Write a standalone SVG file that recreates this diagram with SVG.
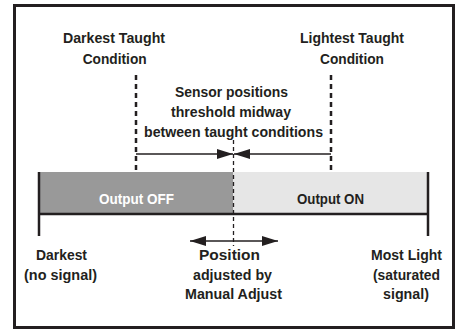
<svg xmlns="http://www.w3.org/2000/svg" width="457" height="330" viewBox="0 0 457 330">
<defs>
<style>
text{font-family:"Liberation Sans",Arial,sans-serif;font-weight:bold;font-size:15.5px;fill:#231f20;text-anchor:middle}
.w{fill:#ffffff}
.ln{stroke:#231f20;fill:none}
</style>
<marker id="ah" viewBox="0 0 16 10" refX="16" refY="5" markerWidth="16" markerHeight="10" markerUnits="userSpaceOnUse" orient="auto">
<path d="M0,0 L16,5 L0,10 Z" fill="#231f20"/>
</marker>
</defs>
<rect x="0" y="0" width="457" height="330" fill="#ffffff"/>
<rect id="frame" x="14.5" y="5.5" width="439" height="322" fill="none" stroke="#231f20" stroke-width="3"/>
<g id="bar">
<rect x="39" y="172" width="194" height="42" fill="#999999"/>
<rect x="233" y="172" width="195" height="42" fill="#e6e6e6"/>
<text class="w" x="136.5" y="203.5" textLength="75" lengthAdjust="spacingAndGlyphs">Output OFF</text>
<text x="330.5" y="203.5" textLength="67" lengthAdjust="spacingAndGlyphs">Output ON</text>
</g>
<g id="connectors">
<line class="ln" x1="39" y1="172" x2="39" y2="236" stroke-width="2.5"/>
<line class="ln" x1="428" y1="172" x2="428" y2="236" stroke-width="2.5"/>
<line class="ln" x1="39" y1="214" x2="428" y2="214" stroke-width="2.5"/>
<line class="ln" x1="136" y1="75" x2="136" y2="172" stroke-width="2.5" stroke-dasharray="5,4"/>
<line class="ln" x1="331" y1="75" x2="331" y2="172" stroke-width="2.5" stroke-dasharray="5,4"/>
<line class="ln" x1="233.5" y1="140" x2="233.5" y2="246" stroke-width="1.3" stroke-dasharray="4,3"/>
<line class="ln" x1="136" y1="154" x2="233" y2="154" stroke-width="1.5" marker-end="url(#ah)"/>
<line class="ln" x1="331" y1="154" x2="234" y2="154" stroke-width="1.5" marker-end="url(#ah)"/>
<line class="ln" x1="233" y1="241" x2="190" y2="241" stroke-width="1.5" marker-end="url(#ah)"/>
<line class="ln" x1="233" y1="241" x2="278" y2="241" stroke-width="1.5" marker-end="url(#ah)"/>
</g>
<g id="darkest-taught"><text x="114" y="42.5" textLength="102" lengthAdjust="spacingAndGlyphs">Darkest Taught</text><text x="114.7" y="64" textLength="64" lengthAdjust="spacingAndGlyphs">Condition</text></g>
<g id="lightest-taught"><text x="352" y="42.5" textLength="104" lengthAdjust="spacingAndGlyphs">Lightest Taught</text><text x="352" y="64" textLength="64" lengthAdjust="spacingAndGlyphs">Condition</text></g>
<g id="midway"><text x="231.5" y="97" textLength="113" lengthAdjust="spacingAndGlyphs">Sensor positions</text><text x="231" y="117" textLength="120" lengthAdjust="spacingAndGlyphs">threshold midway</text><text x="233.5" y="137" textLength="179" lengthAdjust="spacingAndGlyphs">between taught conditions</text></g>
<g id="darkest"><text x="61.5" y="259.5" textLength="51" lengthAdjust="spacingAndGlyphs">Darkest</text><text x="60.5" y="279.5" textLength="73" lengthAdjust="spacingAndGlyphs">(no signal)</text></g>
<g id="position"><text x="229.5" y="259.5" textLength="61" lengthAdjust="spacingAndGlyphs">Position</text><text x="232.5" y="279.5" textLength="79" lengthAdjust="spacingAndGlyphs">adjusted by</text><text x="233.5" y="299" textLength="97" lengthAdjust="spacingAndGlyphs">Manual Adjust</text></g>
<g id="most-light"><text x="406.5" y="259.5" textLength="71" lengthAdjust="spacingAndGlyphs">Most Light</text><text x="406.5" y="279.5" textLength="67" lengthAdjust="spacingAndGlyphs">(saturated</text><text x="406" y="299" textLength="46" lengthAdjust="spacingAndGlyphs">signal)</text></g>
</svg>
